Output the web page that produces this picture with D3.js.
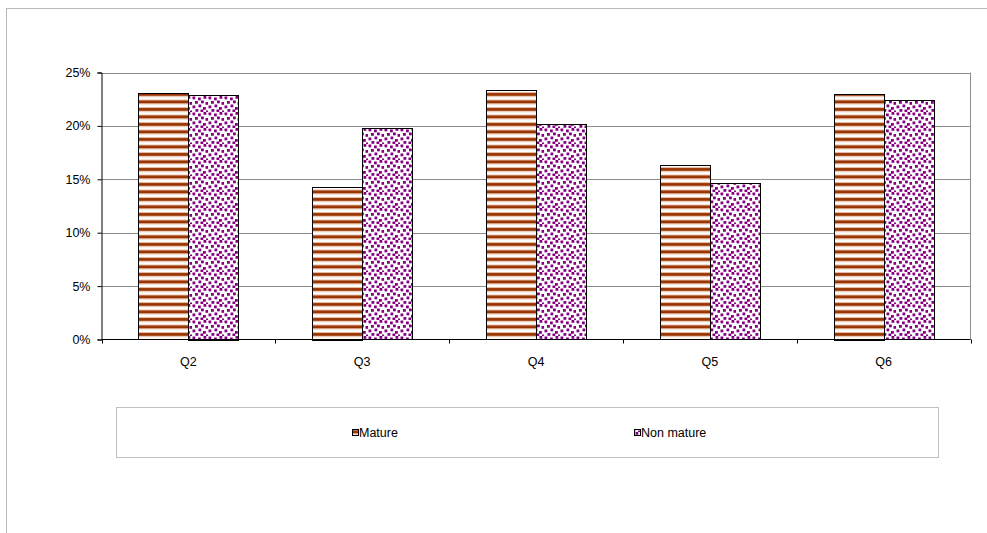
<!DOCTYPE html>
<html><head><meta charset="utf-8">
<script src="https://cdn.jsdelivr.net/npm/d3@7"></script>
<style>html,body{margin:0;padding:0;background:#fff;}svg{display:block;font-family:"Liberation Sans",Arial,sans-serif;}</style>
</head><body><div id="chart"></div>
<script>
const categories = ["Q2","Q3","Q4","Q5","Q6"];
const seriesNames = ["Mature","Non mature"];
const mature = [23.05, 14.3, 23.35, 16.3, 23.0];
const nonMature = [22.9, 19.8, 20.15, 14.65, 22.4];
const yTicks = [0,5,10,15,20,25];

const W = 987, H = 533;
const plot = {left:101.5, right:970.5, top:72.5, bottom:339.5};
const svg = d3.select("#chart").append("svg").attr("width",W).attr("height",H);
const defs = svg.append("defs");

// stripes pattern
const ps = defs.append("pattern").attr("id","stripes").attr("patternUnits","userSpaceOnUse")
  .attr("width",8).attr("height",7.5).attr("y",plot.bottom);
ps.append("rect").attr("width",8).attr("height",7.5).attr("fill","#fff");
ps.append("rect").attr("y",0).attr("width",8).attr("height",1).attr("fill","#e6bfa6");
ps.append("rect").attr("y",1).attr("width",8).attr("height",3).attr("fill","#993300");
ps.append("rect").attr("y",4).attr("width",8).attr("height",1).attr("fill","#e6bfa6");

// confetti pattern (irregular dot layout in a 16x16 tile)
const pc = defs.append("pattern").attr("id","confetti").attr("patternUnits","userSpaceOnUse")
  .attr("width",16).attr("height",16);
pc.append("rect").attr("width",16).attr("height",16).attr("fill","#fff");
[[0.5,0.5],[6,1.5],[11.5,0],[3,5],[9,4.5],[13.5,6],[0.5,9.5],[6.5,8.5],[11,11],[3.5,13],[8.5,13.5],[14,14.5]].forEach(([x,y])=>{
  pc.append("rect").attr("x",x).attr("y",y).attr("width",2.8).attr("height",2.8).attr("fill","#800080");
});

// outer frame
svg.append("rect").attr("x",6.5).attr("y",8.5).attr("width",W).attr("height",H)
  .attr("fill","none").attr("stroke","#b8b8b8");

const x0 = d3.scaleBand().domain(categories).range([plot.left, plot.right]).padding(0);
const bw = x0.bandwidth();
const x1 = d3.scaleBand().domain(seriesNames).range([bw*37/174, bw*137/174]).padding(0);
const y = d3.scaleLinear().domain([0,25]).range([plot.bottom, plot.top]);

// gridlines
svg.append("g").selectAll("line").data(yTicks.filter(d=>d>0)).join("line")
  .attr("x1",plot.left).attr("x2",plot.right)
  .attr("y1",d=>Math.round(y(d))+0.5).attr("y2",d=>Math.round(y(d))+0.5)
  .attr("stroke","#8c8c8c").attr("stroke-width",1);
// right border of plot area
svg.append("line").attr("x1",plot.right).attr("x2",plot.right)
  .attr("y1",plot.top).attr("y2",plot.bottom).attr("stroke","#8c8c8c");

// bars
const data = categories.map((c,i)=>({cat:c, vals:[{s:"Mature",v:mature[i]},{s:"Non mature",v:nonMature[i]}]}));
const g = svg.append("g");
data.forEach(d=>{
  d.vals.forEach(b=>{
    g.append("rect")
      .attr("x",Math.round(x0(d.cat)+x1(b.s))+0.5)
      .attr("y",Math.round(y(b.v))+0.5)
      .attr("width",Math.round(x1.bandwidth()))
      .attr("height",Math.round(plot.bottom - y(b.v)))
      .attr("fill", b.s==="Mature" ? "url(#stripes)" : "url(#confetti)")
      .attr("stroke","#000").attr("stroke-width",1);
  });
});

// y axis
const yAxis = d3.axisLeft(y).tickValues(yTicks).tickSize(4).tickPadding(7).tickFormat(d=>d+"%");
const ya = svg.append("g").attr("transform",`translate(${plot.left},0)`).call(yAxis);
ya.select(".domain").attr("stroke","#000");
ya.selectAll(".tick line").attr("stroke","#000");
ya.selectAll("text").attr("font-size","12.5px").attr("fill","#000")
  .attr("font-family","'Liberation Sans',Arial,sans-serif");

// x axis
const xa = svg.append("g").attr("transform",`translate(0,${plot.bottom})`);
xa.append("line").attr("x1",plot.left).attr("x2",plot.right).attr("stroke","#000");
const bounds = categories.map(c=>x0(c)).concat([plot.right]);
xa.selectAll("line.tk").data(bounds).join("line").attr("class","tk")
  .attr("x1",d=>Math.round(d)+0.5).attr("x2",d=>Math.round(d)+0.5).attr("y1",0).attr("y2",4)
  .attr("stroke","#000");
xa.selectAll("text").data(categories).join("text")
  .attr("x",d=>x0(d)+bw/2).attr("y",26)
  .attr("text-anchor","middle").attr("font-size","12.5px").attr("fill","#000").text(d=>d);

// legend
svg.append("rect").attr("x",116.5).attr("y",407.5).attr("width",822).attr("height",50)
  .attr("fill","#fff").attr("stroke","#c0c0c0");
const legItems = [{s:"Mature",x:352,fill:"url(#stripes)"},{s:"Non mature",x:634,fill:"url(#confetti)"}];
const lg = svg.append("g");
legItems.forEach(it=>{
  lg.append("rect").attr("x",it.x+0.5).attr("y",429.5).attr("width",6).attr("height",6)
    .attr("fill",it.fill).attr("stroke","#000");
  lg.append("text").attr("x",it.x+7).attr("y",437).attr("font-size","12.5px").attr("fill","#000").text(it.s);
});
</script></body></html>
